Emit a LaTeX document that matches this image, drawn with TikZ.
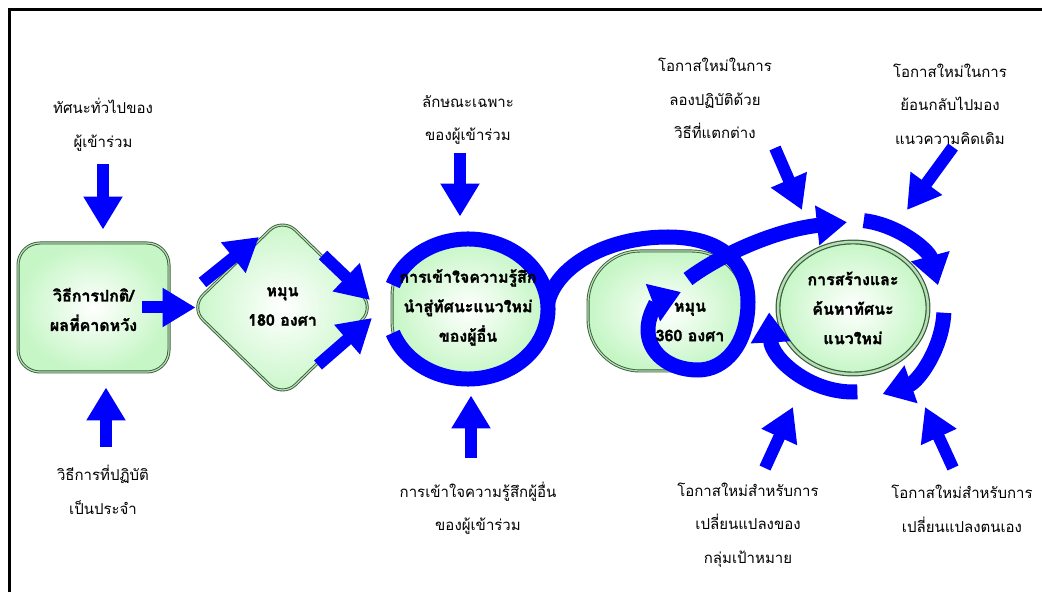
\documentclass[tikz,border=0pt]{standalone}
\usepackage{fontspec}
\newfontfamily\thaifont[Script=Thai]{Loma}
\newfontfamily\thaibold[Script=Thai, FakeBold=1.6]{Loma Bold}
\usetikzlibrary{arrows.meta,shapes.geometric}
\definecolor{arrowblue}{RGB}{0,0,255}
\definecolor{rimgreen}{RGB}{55,95,55}
\definecolor{rimlight}{RGB}{185,220,185}
\definecolor{fillgreen}{RGB}{198,246,198}
\tikzset{
  shapefill/.style={shade, inner color=white, outer color=fillgreen, draw=rimgreen,
    double=rimlight, double distance=1.2pt, line width=0.9pt, inner sep=0pt},
  stagetext/.style={font=\thaibold\fontsize{16}{29.5}\selectfont, align=center, inner sep=0pt},
  note/.style={font=\thaifont\fontsize{15}{33.5}\selectfont, align=center, inner sep=0pt},
  push/.style={draw=arrowblue, line width=12pt, -{Triangle[length=33pt,width=37pt]}},
  swirl/.style={draw=arrowblue, line width=15pt},
  swirlhead/.style={swirl, -{Triangle[length=30pt,width=38pt]}},
}
\begin{document}
\begin{tikzpicture}[x=1pt,y=1pt]
\useasboundingbox (0,0) rectangle (1042,592);
% frame
\draw[line width=3pt] (9,0) -- (9,582) -- (1042,582);

% stages
\node[shapefill, rectangle, rounded corners=22pt, minimum width=151pt, minimum height=129pt] (usual) at (93.5,284.5) {};
\node[shapefill, diamond, rounded corners=18pt, minimum width=185pt, minimum height=180pt] (turn180) at (282.5,284.5) {};
\node[shapefill, rectangle, rounded corners=55pt, minimum width=152pt, minimum height=136pt] (insight) at (468,283) {};
\node[shapefill, rectangle, rounded corners=52pt, minimum width=156pt, minimum height=120pt] (turn360) at (666,281) {};
\node[shapefill, ellipse, line width=1.2pt, double distance=2.5pt, minimum width=150pt, minimum height=132pt] (create) at (853,284) {};

% notes
\node[note] (viewA) at (103,467.5) {ทัศนะทั่วไปของ\\ผู้เข้าร่วม};
\node[note] (routine) at (103,102) {วิธีการที่ปฏิบัติ\\เป็นประจำ};
\node[note] (trait) at (468,472) {ลักษณะเฉพาะ\\ของผู้เข้าร่วม};
\node[note] (empathy) at (478,84) {การเข้าใจความรู้สึกผู้อื่น\\ของผู้เข้าร่วม};
\node[note] (tryout) at (715,493.5) {โอกาสใหม่ในการ\\ลองปฏิบัติด้วย\\วิธีที่แตกต่าง};
\node[note] (lookback) at (950,488) {โอกาสใหม่ในการ\\ย้อนกลับไปมอง\\แนวความคิดเดิม};
\node[note] (groupchg) at (748,67) {โอกาสใหม่สำหรับการ\\เปลี่ยนแปลงของ\\กลุ่มเป้าหมาย};
\node[note] (selfchg) at (962,83) {โอกาสใหม่สำหรับการ\\เปลี่ยนแปลงตนเอง};

% straight arrows
\draw[push] ([yshift=-40]viewA.center) -- ([xshift=9.5,yshift=13]usual.north);
\draw[push] ([xshift=3,yshift=43]routine.center) -- ([xshift=12.5,yshift=-15]usual.south);
\draw[push] ([xshift=-27]usual.east) -- ([xshift=6]turn180.west);
\draw[push] ([shift={(-80,25)}]turn180.center) -- ([shift={(-23.5,70.5)}]turn180.center);
\draw[push] ([shift={(40.5,52.5)}]turn180.center) -- ([shift={(87.5,7.5)}]turn180.center);
\draw[push] ([shift={(35.5,-57.5)}]turn180.center) -- ([shift={(89.5,-10.5)}]turn180.center);
\draw[push] ([shift={(-8,-33)}]trait.center) -- ([xshift=-8,yshift=24]insight.north);
\draw[push] ([shift={(-7,50)}]empathy.center) -- ([xshift=3,yshift=-18]insight.south);
\draw[push] ([shift={(60,-49.5)}]tryout.center) -- ([shift={(-51,98)}]create.center);
\draw[push] ([shift={(3,-43)}]lookback.center) -- ([shift={(54,98)}]create.center);
\draw[push] ([shift={(17,57)}]groupchg.center) -- ([shift={(-60,-99)}]create.center);
\draw[push] ([shift={(-9,41)}]selfchg.center) -- ([shift={(72,-99)}]create.center);

% spiral
\draw[swirl] ([shift={(160:80 and 70)}]insight.center) arc[start angle=160, end angle=-160, x radius=80, y radius=70];
\draw[swirlhead] ([shift={(5:80 and 70)}]insight.center) .. controls (556,325) and (605,355) .. (668,355)
  .. controls (720,355) and (748,330) .. (748,290) .. controls (748,248) and (725,222) .. (698,222)
  .. controls (668,222) and (648,240) .. (648,262) .. controls (648,280) and (660,292) .. (681,300);
\draw[swirlhead] ([shift={(22,32)}]turn360.center) .. controls (720,337) and (775,362) .. ([shift={(94:86)}]create.center);
\draw[swirlhead] ([shift={(83:88)}]create.center) arc[start angle=83, end angle=15, radius=88];
\draw[swirlhead] ([shift={(-3:91)}]create.center) arc[start angle=-3, end angle=-71, radius=91];
\draw[swirlhead] ([shift={(-87:84)}]create.center) arc[start angle=-87, end angle=-177, radius=84];

% stage texts
\node[stagetext] (usualtxt) at ([yshift=-2]usual.center) {วิธีการปกติ/\\ผลที่คาดหวัง};
\node[stagetext] (turn180txt) at ([yshift=1]turn180.center) {หมุน\\180 องศา};
\node[stagetext] (insighttxt) at ([yshift=1.5]insight.center) {การเข้าใจความรู้สึก\\นำสู่ทัศนะแนวใหม่\\ของผู้อื่น};
\node[stagetext] (turn360txt) at ([shift={(24,-11)}]turn360.center) {หมุน\\360 องศา};
\node[stagetext] (createtxt) at (create.center) {การสร้างและ\\ค้นหาทัศนะ\\แนวใหม่};
\end{tikzpicture}
\end{document}
